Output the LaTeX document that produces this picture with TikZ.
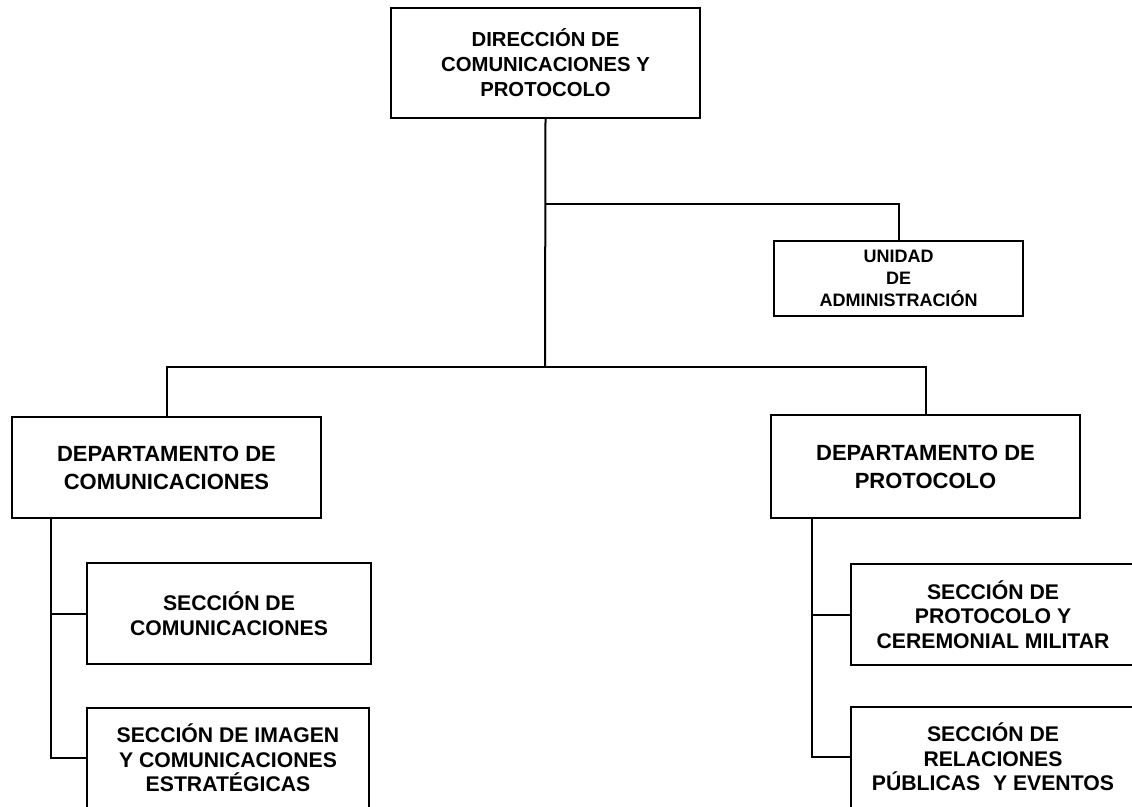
\documentclass[tikz,border=0pt]{standalone}
\usepackage{fontspec}
\setmainfont{Liberation Sans}
\begin{document}
\begin{tikzpicture}[x=1pt,y=-1pt,
  box/.style={draw, line width=2pt, rectangle, align=center, inner sep=0pt, font=\bfseries},
  topf/.style={font=\fontsize{20.3}{25}\selectfont\bfseries},
  unif/.style={font=\fontsize{18}{22}\selectfont\bfseries},
  depf/.style={font=\fontsize{22}{28}\selectfont\bfseries},
  secf/.style={font=\fontsize{21.2}{24.5}\selectfont\bfseries},
  conn/.style={line width=2pt}]
\useasboundingbox (0,0) rectangle (1132,806);
\clip (0,0) rectangle (1132,806);
\fill[white] (0,0) rectangle (1132,806);
\node[box,topf,minimum width=309pt,minimum height=110pt] (top) at (545.5,63) {DIRECCIÓN DE\\COMUNICACIONES Y\\PROTOCOLO};
\node[box,unif,minimum width=249pt,minimum height=75pt] (uni) at (898.5,278.5) {UNIDAD\\DE\\ADMINISTRACIÓN};
\node[box,depf,minimum width=309pt,minimum height=101pt] (dcom) at (166.5,467.5) {DEPARTAMENTO DE\\COMUNICACIONES};
\node[box,depf,minimum width=309pt,minimum height=103pt] (dprot) at (925.5,466.5) {DEPARTAMENTO DE\\PROTOCOLO};
\node[box,secf,minimum width=284pt,minimum height=101pt] (scom) at (229,613.5) {SECCIÓN DE\\COMUNICACIONES};
\node[box,secf,minimum width=282pt,minimum height=101pt] (simg) at (228,758) {SECCIÓN DE IMAGEN\\Y COMUNICACIONES\\ESTRATÉGICAS};
\node[box,secf,minimum width=284pt,minimum height=101pt] (sprot) at (993,614.5) {SECCIÓN DE\\PROTOCOLO Y\\CEREMONIAL MILITAR};
\node[box,secf,minimum width=284pt,minimum height=101pt] (srp) at (993,757) {SECCIÓN DE\\RELACIONES\\PÚBLICAS\hspace{0.6em}Y EVENTOS};
\coordinate (j1) at (545,204);
\coordinate (j2) at (545,367);
\coordinate (lc) at (51,0);
\coordinate (rc) at (812,0);
\draw[conn] (top.south) -- (j2);
\draw[conn] (j1) -| (uni.north);
\draw[conn] (dcom.north) |- (j2) -| (dprot.north);
\draw[conn] (dcom.south -| lc) |- (scom.west);
\draw[conn] (dcom.south -| lc) |- (simg.west);
\draw[conn] (dprot.south -| rc) |- (sprot.west);
\draw[conn] (dprot.south -| rc) |- (srp.west);
\end{tikzpicture}
\end{document}
